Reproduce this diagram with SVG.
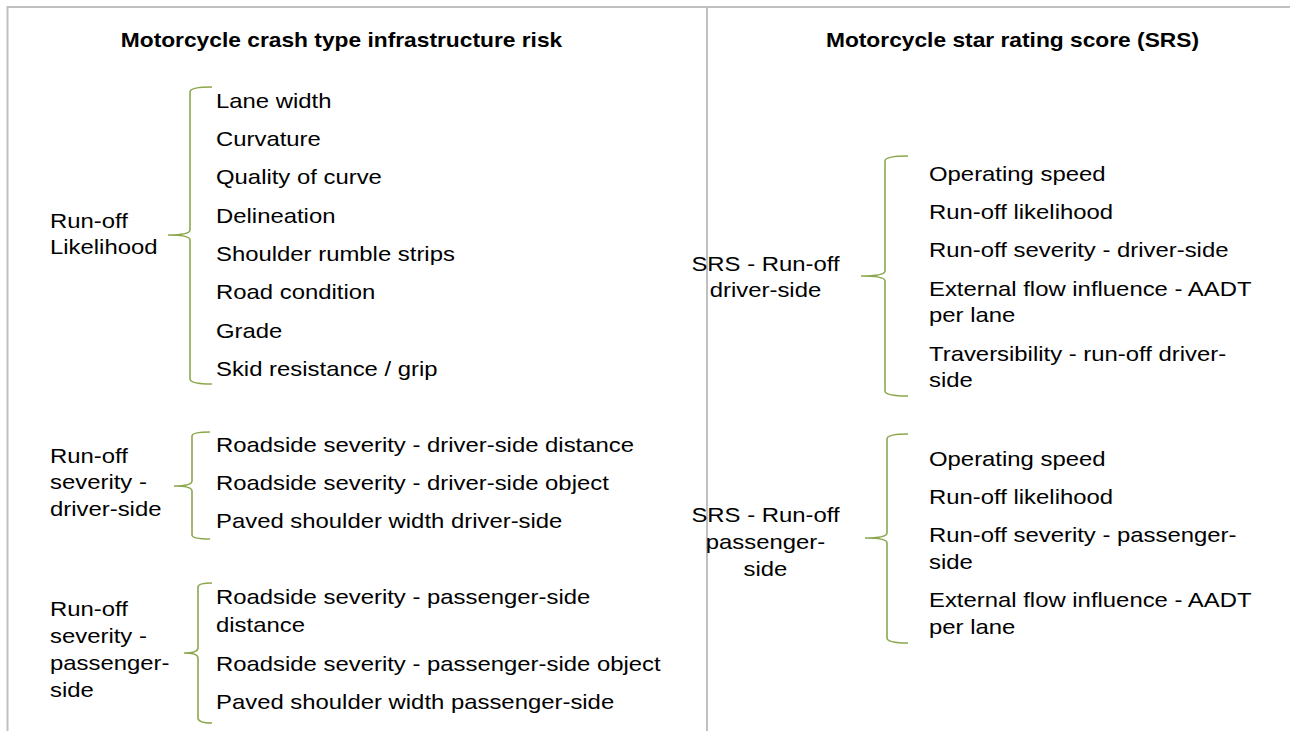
<svg xmlns="http://www.w3.org/2000/svg" width="1290" height="731" viewBox="0 0 1290 731">
<style>
.t{font-family:"Liberation Sans",Arial,sans-serif;font-size:20.5px;fill:#000}
.h{font-family:"Liberation Sans",Arial,sans-serif;font-size:19.8px;font-weight:bold;fill:#000}
.c{text-anchor:middle}
.br{fill:none;stroke:#8ca84f;stroke-width:1.6}
.bd{fill:none;stroke:#c0c0c0;stroke-width:2}
</style>
<rect width="1290" height="731" fill="#fff"/>
<g id="frame">
<path class="bd" d="M7.5,731 V7 H1290 M707,7 V731"/>
</g>
<g id="titles">
<text class="h c" transform="translate(341.5,47) scale(1.15,1)">Motorcycle crash type infrastructure risk</text>
<text class="h c" transform="translate(1012.5,47) scale(1.15,1)">Motorcycle star rating score (SRS)</text>
</g>
<g id="connectors">
<path class="br" d="M212,87 Q190,87 190,92 V230 Q190,235 168,235 Q190,235 190,240 V379 Q190,384 212,384"/>
<path class="br" d="M210,432 Q192,432 192,436 V481 Q192,486 174,486 Q192,486 192,491 V535 Q192,539 210,539"/>
<path class="br" d="M212,583 Q198,583 198,587 V648 Q198,653 184,653 Q198,653 198,658 V718 Q198,723 212,723"/>
<path class="br" d="M908,156 Q885,156 885,161 V271 Q885,276 861,276 Q885,276 885,281 V391 Q885,396 908,396"/>
<path class="br" d="M908,434 Q887,434 887,439 V533 Q887,538 865,538 Q887,538 887,543 V638 Q887,643 908,643"/>
</g>
<g id="node-runoff-likelihood">
<text class="t" transform="translate(50,227.7) scale(1.165,1)"><tspan x="0" y="0">Run-off</tspan><tspan x="0" y="26.7">Likelihood</tspan></text>
</g>
<g id="items-runoff-likelihood">
<text class="t" transform="translate(216,107.7) scale(1.165,1)">Lane width</text>
<text class="t" transform="translate(216,146) scale(1.165,1)">Curvature</text>
<text class="t" transform="translate(216,184.3) scale(1.165,1)">Quality of curve</text>
<text class="t" transform="translate(216,222.6) scale(1.165,1)">Delineation</text>
<text class="t" transform="translate(216,261) scale(1.165,1)">Shoulder rumble strips</text>
<text class="t" transform="translate(216,299.3) scale(1.165,1)">Road condition</text>
<text class="t" transform="translate(216,337.6) scale(1.165,1)">Grade</text>
<text class="t" transform="translate(216,376) scale(1.165,1)">Skid resistance / grip</text>
</g>
<g id="node-severity-driver">
<text class="t" transform="translate(50,462.5) scale(1.165,1)"><tspan x="0" y="0">Run-off</tspan><tspan x="0" y="27">severity -</tspan><tspan x="0" y="54">driver-side</tspan></text>
</g>
<g id="items-severity-driver">
<text class="t" transform="translate(216,451.5) scale(1.165,1)">Roadside severity - driver-side distance</text>
<text class="t" transform="translate(216,489.8) scale(1.165,1)">Roadside severity - driver-side object</text>
<text class="t" transform="translate(216,528.2) scale(1.165,1)">Paved shoulder width driver-side</text>
</g>
<g id="node-severity-passenger">
<text class="t" transform="translate(50,615.7) scale(1.165,1)"><tspan x="0" y="0">Run-off</tspan><tspan x="0" y="27">severity -</tspan><tspan x="0" y="54">passenger-</tspan><tspan x="0" y="81">side</tspan></text>
</g>
<g id="items-severity-passenger">
<text class="t" transform="translate(216,604) scale(1.165,1)"><tspan x="0" y="0">Roadside severity - passenger-side</tspan><tspan x="0" y="28">distance</tspan></text>
<text class="t" transform="translate(216,670.7) scale(1.165,1)">Roadside severity - passenger-side object</text>
<text class="t" transform="translate(216,708.5) scale(1.165,1)">Paved shoulder width passenger-side</text>
</g>
<g id="node-srs-driver">
<text class="t c" transform="translate(765.5,270.7) scale(1.165,1)"><tspan x="0" y="0">SRS - Run-off</tspan><tspan x="0" y="26.7">driver-side</tspan></text>
</g>
<g id="items-srs-driver">
<text class="t" transform="translate(929,180.5) scale(1.165,1)">Operating speed</text>
<text class="t" transform="translate(929,218.8) scale(1.165,1)">Run-off likelihood</text>
<text class="t" transform="translate(929,257.1) scale(1.165,1)">Run-off severity - driver-side</text>
<text class="t" transform="translate(929,295.5) scale(1.165,1)"><tspan x="0" y="0">External flow influence - AADT</tspan><tspan x="0" y="27">per lane</tspan></text>
<text class="t" transform="translate(929,360.5) scale(1.165,1)"><tspan x="0" y="0">Traversibility - run-off driver-</tspan><tspan x="0" y="27">side</tspan></text>
</g>
<g id="node-srs-passenger">
<text class="t c" transform="translate(765.5,521.7) scale(1.165,1)"><tspan x="0" y="0">SRS - Run-off</tspan><tspan x="0" y="27">passenger-</tspan><tspan x="0" y="54">side</tspan></text>
</g>
<g id="items-srs-passenger">
<text class="t" transform="translate(929,465.5) scale(1.165,1)">Operating speed</text>
<text class="t" transform="translate(929,503.8) scale(1.165,1)">Run-off likelihood</text>
<text class="t" transform="translate(929,542.1) scale(1.165,1)"><tspan x="0" y="0">Run-off severity - passenger-</tspan><tspan x="0" y="27">side</tspan></text>
<text class="t" transform="translate(929,607.4) scale(1.165,1)"><tspan x="0" y="0">External flow influence - AADT</tspan><tspan x="0" y="27">per lane</tspan></text>
</g>
</svg>
